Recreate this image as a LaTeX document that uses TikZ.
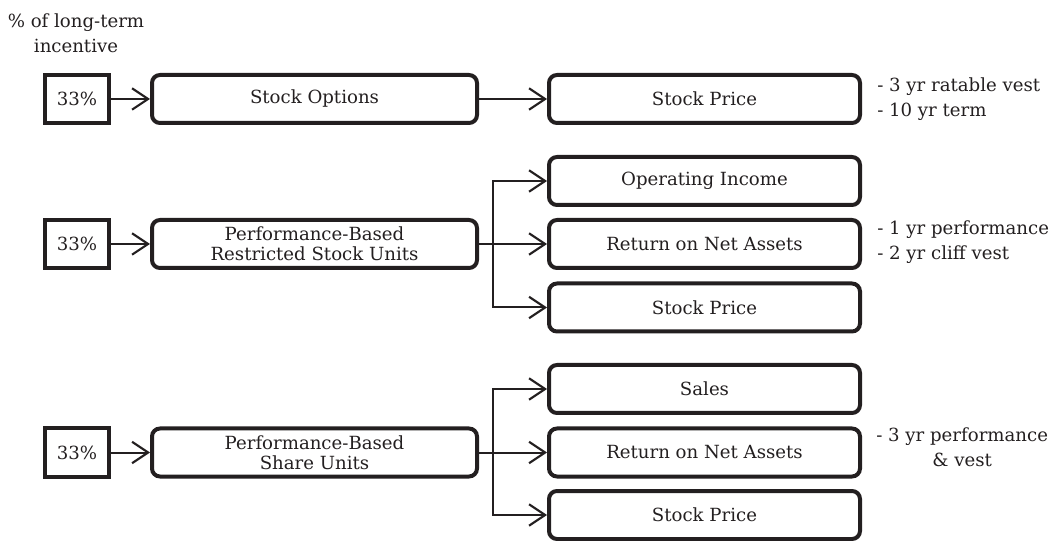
\documentclass[tikz,border=0pt]{standalone}
\usepackage{fontspec}
\setmainfont{DejaVu Serif}
\usetikzlibrary{arrows.meta}
\definecolor{ink}{HTML}{231F20}
\begin{document}
\begin{tikzpicture}[x=0.75pt,y=-0.75pt,
  txt/.style={text=ink, font=\fontsize{13.6}{15}\selectfont},
  pct/.style={txt, draw=ink, line width=3pt, minimum width=48pt, minimum height=36pt, inner sep=0pt},
  plan/.style={txt, draw=ink, line width=3pt, rounded corners=6pt, minimum width=243.75pt, minimum height=36pt, inner sep=0pt, align=center},
  twoline/.style={font=\fontsize{13.6}{15}\selectfont},
  metric/.style={plan, minimum width=233.25pt},
  note/.style={text=ink, font=\fontsize{13.6}{19}\selectfont, inner sep=0pt},
  wire/.style={draw=ink, line width=1.5pt},
  conn/.style={wire, -{Straight Barb[length=12pt,width=16pt,line width=1.6pt]}}
]
\useasboundingbox (0,0) rectangle (1053,541);

\node[note, align=center] (hdr) at (76,33) {\% of long-term\\incentive};

% row 1
\node[pct] (p1) at (77,99) {33\%};
\node[plan] (l1) at (314.5,99) {Stock Options};
\node[metric] (r1) at (704.5,99) {Stock Price};
\node[note, align=left, anchor=west] (n1) at (877,99) {- 3 yr ratable vest\\- 10 yr term};

% row 2
\node[pct] (p2) at (77,244) {33\%};
\node[plan, twoline] (l2) at (314.5,244) {Performance-Based\\Restricted Stock Units};
\node[metric] (r2a) at (704.5,181) {Operating Income};
\node[metric] (r2b) at (704.5,244) {Return on Net Assets};
\node[metric] (r2c) at (704.5,307.5) {Stock Price};
\node[note, align=left, anchor=west] (n2) at (877,242) {- 1 yr performance\\- 2 yr cliff vest};

% row 3
\node[pct] (p3) at (77,452.5) {33\%};
\node[plan, twoline] (l3) at (314.5,452.5) {Performance-Based\\Share Units};
\node[metric] (r3a) at (704.5,389) {Sales};
\node[metric] (r3b) at (704.5,452.5) {Return on Net Assets};
\node[metric] (r3c) at (704.5,515) {Stock Price};
\node[note, align=center, anchor=west] (n3) at (876,447) {- 3 yr performance\\\& vest};

% connectors
\draw[conn] (p1.east) -- (l1.west);
\draw[conn] (l1.east) -- (r1.west);

\draw[conn] (p2.east) -- (l2.west);
\coordinate (j2) at (493,244);
\draw[wire] (l2.east) -- (j2);
\draw[wire, line cap=rect] (j2 |- r2a.west) -- (j2 |- r2c.west);
\draw[conn] (j2 |- r2a.west) -- (r2a.west);
\draw[conn] (j2) -- (r2b.west);
\draw[conn] (j2 |- r2c.west) -- (r2c.west);

\draw[conn] (p3.east) -- (l3.west);
\coordinate (j3) at (493,452.5);
\draw[wire] (l3.east) -- (j3);
\draw[wire, line cap=rect] (j3 |- r3a.west) -- (j3 |- r3c.west);
\draw[conn] (j3 |- r3a.west) -- (r3a.west);
\draw[conn] (j3) -- (r3b.west);
\draw[conn] (j3 |- r3c.west) -- (r3c.west);
\end{tikzpicture}
\end{document}
